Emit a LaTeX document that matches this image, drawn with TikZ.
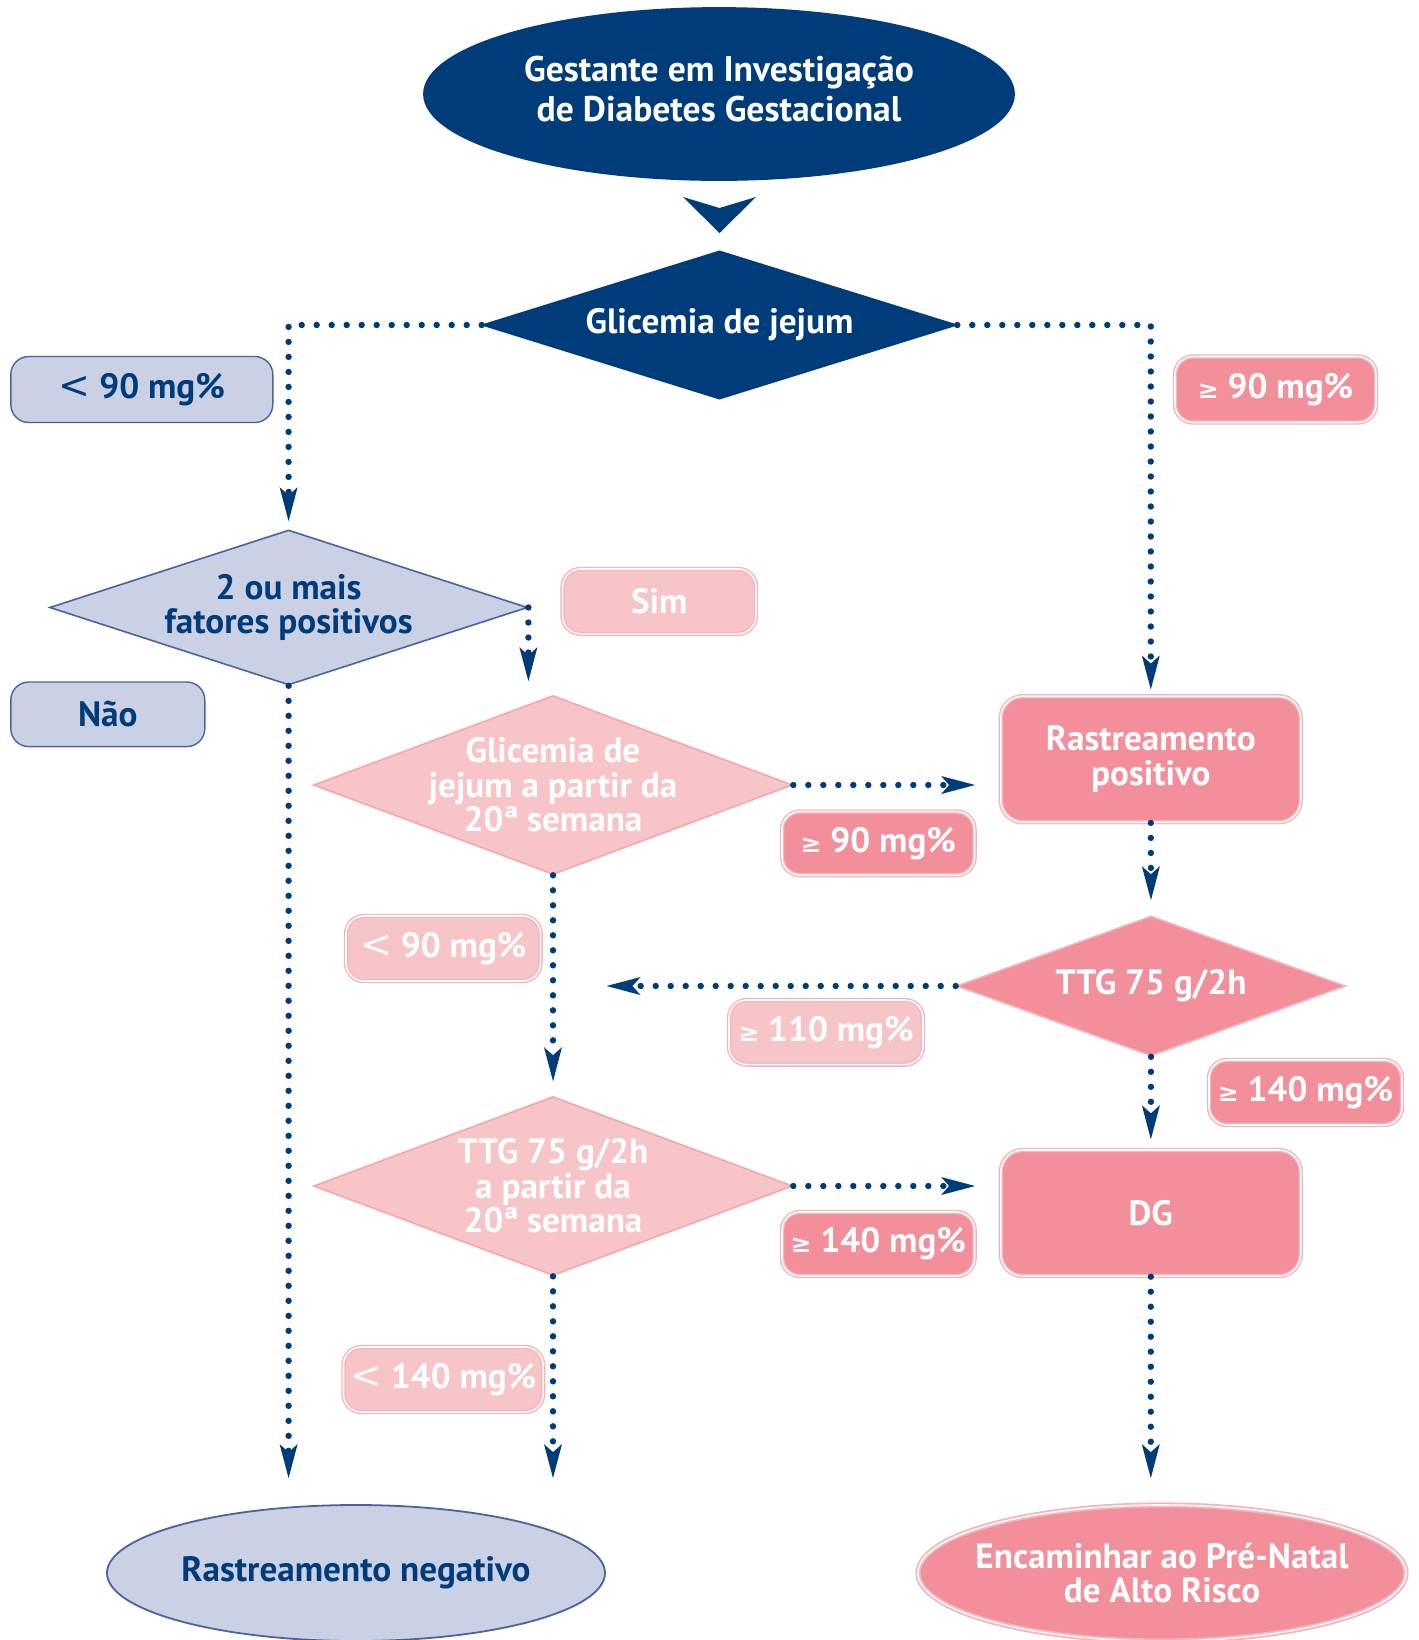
\documentclass[tikz,border=0pt]{standalone}
\usepackage{fontspec}
\setmainfont{PT Sans}
\newfontfamily\symf{DejaVu Sans}
\usetikzlibrary{shapes.geometric,arrows.meta}
\definecolor{navy}{HTML}{003B7A}
\definecolor{bluefill}{HTML}{CBD1E4}
\definecolor{blueline}{HTML}{4A63A0}
\definecolor{pinkfill}{HTML}{F38F9B}
\definecolor{lpinkfill}{HTML}{F7C4C8}
\definecolor{pinkline}{HTML}{F7B3BA}
\definecolor{lpinkline}{HTML}{F4A7AF}
\newcommand{\mygeq}{{\symf\fontsize{12.5}{12}\selectfont ≥}}
\newcommand{\myless}{{\symf\mdseries\fontsize{19}{12}\selectfont <}}
\begin{document}
\begin{tikzpicture}[x=0.5pt,y=-0.5pt,
  every node/.style={font=\bfseries\fontsize{17.6}{17.3}\selectfont, align=center},
  dotline/.style={draw=navy, line width=3.2pt, dash pattern=on 0pt off 7.5pt, line cap=round,
    -{Stealth[length=17pt,width=9pt,inset=4pt,line width=0pt]}},
  dia/.style={shape=diamond, aspect=3, inner xsep=-60pt, inner ysep=-30pt, line width=0.8pt},
  ell/.style={shape=ellipse, inner sep=-14pt, line width=0.9pt},
  bluebox/.style={rectangle, rounded corners=9pt, fill=bluefill, draw=blueline, line width=0.7pt, text=navy},
  pinkbox/.style={rectangle, rounded corners=9pt, fill=pinkfill, draw=pinkline, line width=0.7pt, double=white, double distance=0.8pt, text=white},
  lpinkbox/.style={rectangle, rounded corners=9pt, fill=lpinkfill, draw=pinkline, line width=0.7pt, double=white, double distance=0.8pt, text=white},
  bigbox/.style={rectangle, rounded corners=11pt, fill=pinkfill, draw=pinkline, line width=0.7pt, double=white, double distance=0.8pt, text=white, minimum width=150pt, minimum height=63pt},
]
\useasboundingbox (0,0) rectangle (1419,1640);

% top ellipse
\node[ell, fill=navy, draw=navy, text=white, minimum width=295pt, minimum height=86pt,
  text depth=5pt, font=\bfseries\fontsize{17.8}{20}\selectfont] (e1) at (719,94)
  {Gestante em Investigação\\de Diabetes Gestacional};
\fill[navy] (683,197) -- (719.5,233) -- (756,197) -- (719.5,208) -- cycle;

% decisions
\node[dia, fill=navy, draw=navy, text=white, minimum width=237pt, minimum height=74pt] (d0) at (719.5,325) {Glicemia de jejum};
\node[dia, fill=bluefill, draw=blueline, text=navy, minimum width=239pt, minimum height=77.5pt] (d1) at (288.6,607.5) {2 ou mais\\fatores positivos};
\node[dia, fill=lpinkfill, draw=lpinkline, text=white, minimum width=239.5pt, minimum height=89.5pt] (d2) at (553,785) {Glicemia de\\jejum a partir da\\20ª semana};
\node[dia, fill=pinkfill, draw=pinkline, text=white, minimum width=194.5pt, minimum height=70pt] (ttg) at (1151,986) {TTG 75 g/2h};
\node[dia, fill=lpinkfill, draw=lpinkline, text=white, minimum width=239.5pt, minimum height=89.5pt] (d3) at (553,1186) {TTG 75 g/2h\\a partir da\\20ª semana};

% process boxes
\node[bigbox] (rpos) at (1150.8,759.2) {Rastreamento\\positivo};
\node[bigbox] (dg) at (1150.8,1213) {DG};

% end ellipses
\node[ell, fill=bluefill, draw=blueline, text=navy, minimum width=249pt, minimum height=68pt] (e2) at (356,1573) {Rastreamento negativo};
\node[ell, fill=pinkfill, draw=pinkline, double=white, double distance=0.8pt, text=white, minimum width=244pt, minimum height=68pt] (e3) at (1162,1573) {Encaminhar ao Pré-Natal\\de Alto Risco};

% labels
\node[bluebox, minimum width=131pt, minimum height=33pt] (lb1) at (141.8,389.5) {\myless\ 90 mg\%};
\node[bluebox, minimum width=97pt, minimum height=32.3pt] (nao) at (107.8,714.3) {Não};
\node[pinkbox, minimum width=100.5pt, minimum height=33pt] (lp1) at (1275.5,389.5) {\mygeq\ 90 mg\%};
\node[lpinkbox, minimum width=96.7pt, minimum height=32.4pt] (sim) at (659.3,601.4) {Sim};
\node[pinkbox, minimum width=96.3pt, minimum height=31.8pt] (lp2) at (878.3,843.3) {\mygeq\ 90 mg\%};
\node[lpinkbox, minimum width=97.3pt, minimum height=32.5pt] (ll1) at (443.3,948.5) {\myless\ 90 mg\%};
\node[lpinkbox, minimum width=97pt, minimum height=32.3pt] (lp3) at (826,1032.3) {\mygeq\ 110 mg\%};
\node[pinkbox, minimum width=96.5pt, minimum height=32.5pt] (lp4) at (1305.5,1092.5) {\mygeq\ 140 mg\%};
\node[pinkbox, minimum width=96.3pt, minimum height=32pt] (lp5) at (878.3,1244) {\mygeq\ 140 mg\%};
\node[lpinkbox, minimum width=97.3pt, minimum height=32.5pt] (ll2) at (443.3,1379.5) {\myless\ 140 mg\%};

% connectors
\draw[dotline, shorten >=4pt] (d0.west) -| (d1.north);
\draw[dotline, shorten >=3pt] (d0.east) -| (rpos.north);
\draw[dotline, shorten >=6.75pt] (d1.east) -- (d1.east |- d2.north);
\draw[dotline, shorten >=13pt] (d1.south) -- (d1.south |- e2.north);
\draw[dotline, shorten >=12.5pt] (d2.east) -- (d2.east -| rpos.west);
\draw[dotline, shorten >=7.5pt] (rpos.south) -- (ttg.north);
\draw[dotline, shorten >=26.75pt] (ttg.west) -- (ttg.west -| d2.south);
\draw[dotline, shorten >=5pt] (ttg.south) -- (dg.north);
\draw[dotline, shorten >=13pt] (dg.south) -- (dg.south |- e3.north);
\draw[dotline, shorten >=7.25pt] (d2.south) -- (d3.north);
\draw[dotline, shorten >=12.5pt] (d3.east) -- (d3.east -| dg.west);
\draw[dotline, shorten >=13pt] (d3.south) -- (d3.south |- e2.north);
\end{tikzpicture}
\end{document}
